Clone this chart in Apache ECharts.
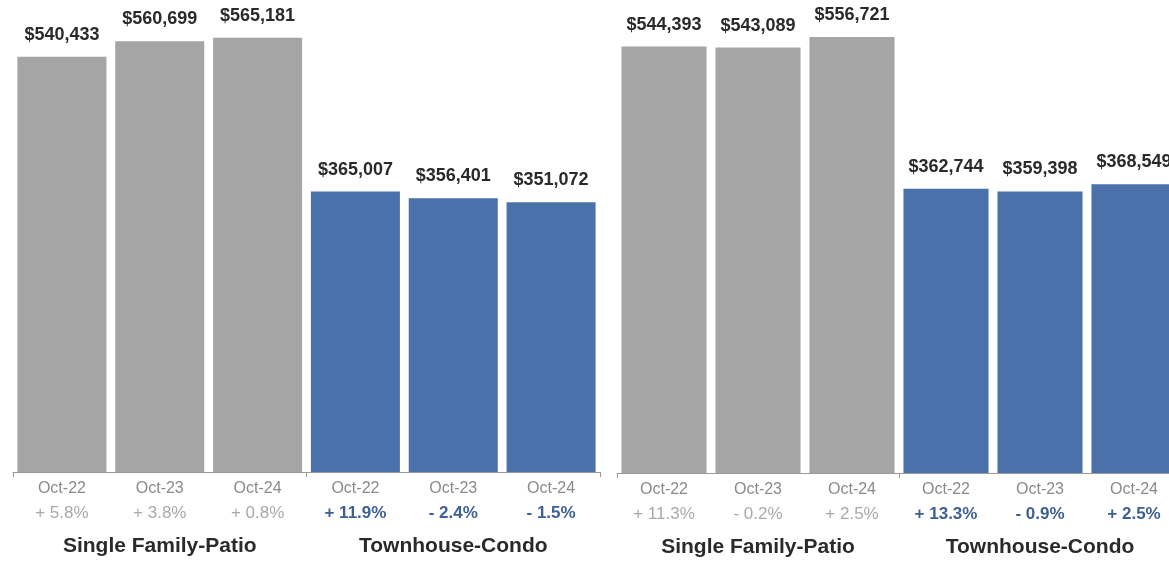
<!DOCTYPE html>
<html>
<head>
<meta charset="utf-8">
<title>Median Sales Price</title>
<script src="https://cdn.jsdelivr.net/npm/echarts@6/dist/echarts.min.js"></script>
<style>
  html, body { margin: 0; padding: 0; background: #ffffff; overflow: hidden; }
  /* canvas is a little wider than the page so the right panel runs off the edge */
  #chart { width: 1181px; height: 561px; }
</style>
</head>
<body>
<div id="chart"></div>
<script>
// Categories shared by both panels
const months = ['Oct-22', 'Oct-23', 'Oct-24', 'Oct-22', 'Oct-23', 'Oct-24'];
const groups = ['Single Family-Patio', 'Townhouse-Condo'];

// Left panel: median prices and year-over-year change (%)
const leftValues = [540433, 560699, 565181, 365007, 356401, 351072];
const leftChanges = [5.8, 3.8, 0.8, 11.9, -2.4, -1.5];

// Right panel: median prices and year-over-year change (%)
const rightValues = [544393, 543089, 556721, 362744, 359398, 368549];
const rightChanges = [11.3, -0.2, 2.5, 13.3, -0.9, 2.5];

const FONT = '"Liberation Sans", Arial, Helvetica, sans-serif';
const GRAY = '#a5a5a5';
const BLUE = '#4a71aa';

function groupIndex(i) { return i < 3 ? 0 : 1; }

function fmtChange(v) {
  return (v < 0 ? '- ' : '+ ') + Math.abs(v).toFixed(1) + '%';
}

function fmtPrice(v) {
  return '$' + v.toLocaleString('en-US');
}

function monthAxis(gridIndex, changes) {
  return {
    type: 'category',
    gridIndex: gridIndex,
    data: months,
    position: 'bottom',
    axisLine: { show: false },
    axisTick: { show: false },
    axisLabel: {
      interval: 0,
      margin: 5,
      formatter: function (value, idx) {
        const cls = groupIndex(idx) === 0 ? 'pg' : 'pb';
        return '{m|' + value + '}\n{' + cls + '|' + fmtChange(changes[idx]) + '}';
      },
      rich: {
        m: { fontFamily: FONT, fontSize: 16, color: '#8a8a8a', lineHeight: 24 },
        pg: { fontFamily: FONT, fontSize: 17, color: '#a9a9a9', lineHeight: 24 },
        pb: { fontFamily: FONT, fontSize: 17, fontWeight: 'bold', color: '#3e5f94', lineHeight: 24 }
      }
    }
  };
}

function groupAxis(gridIndex) {
  return {
    type: 'category',
    gridIndex: gridIndex,
    data: groups,
    position: 'bottom',
    boundaryGap: true,
    axisLine: { show: true, lineStyle: { color: '#9a9a9a', width: 1 } },
    axisTick: { show: true, length: 5, lineStyle: { color: '#9a9a9a', width: 1 } },
    axisLabel: {
      interval: 0,
      margin: 62,
      fontFamily: FONT,
      fontSize: 21,
      fontWeight: 'bold',
      color: '#2a2a2a',
      lineHeight: 24
    }
  };
}

function valueAxis(gridIndex) {
  return {
    type: 'value',
    gridIndex: gridIndex,
    min: 0,
    max: 600000,
    show: false,
    splitLine: { show: false }
  };
}

function barSeries(axisIndex, values, gap) {
  return {
    type: 'bar',
    xAxisIndex: axisIndex,
    yAxisIndex: axisIndex / 2,
    barCategoryGap: gap,
    data: values.map(function (v, i) {
      return { value: v, itemStyle: { color: groupIndex(i) === 0 ? GRAY : BLUE } };
    }),
    label: {
      show: true,
      position: 'top',
      distance: 13,
      fontFamily: FONT,
      fontSize: 18,
      fontWeight: 'bold',
      color: '#2a2a2a',
      formatter: function (p) { return fmtPrice(p.value); }
    },
    emphasis: { disabled: true },
    animation: false
  };
}

const chart = echarts.init(document.getElementById('chart'), null, { renderer: 'canvas' });

chart.setOption({
  backgroundColor: '#ffffff',
  animation: false,
  grid: [
    { left: 13, right: 581, top: 11, bottom: 89, containLabel: false },
    { left: 617, right: 0, top: 3, bottom: 88, containLabel: false }
  ],
  xAxis: [
    monthAxis(0, leftChanges),
    groupAxis(0),
    monthAxis(1, rightChanges),
    groupAxis(1)
  ],
  yAxis: [valueAxis(0), valueAxis(1)],
  series: [
    barSeries(0, leftValues, '9%'),
    barSeries(2, rightValues, '9.5%')
  ]
});
</script>
</body>
</html>
